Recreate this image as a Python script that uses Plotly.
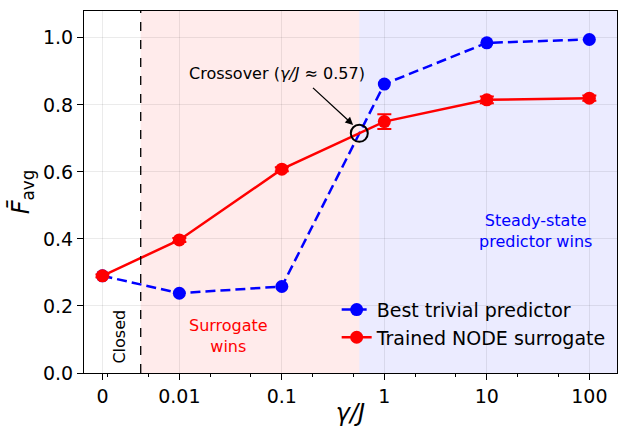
import numpy as np
import plotly.graph_objects as go

# ---- data ----
gamma_labels = ["0", "0.01", "0.1", "1", "10", "100"]
gamma_values = [0.0, 0.01, 0.1, 1.0, 10.0, 100.0]
trivial = [0.29, 0.238, 0.258, 0.862, 0.985, 0.995]
node = [0.29, 0.397, 0.608, 0.750, 0.815, 0.820]
node_err = [0.004, 0.006, 0.006, 0.022, 0.010, 0.008]
crossover_x = 0.57
crossover_y = 0.715
closed_boundary = 0.0042
zero_pos = 10 ** -2.75  # where gamma=0 is drawn on the log axis

xpos = [zero_pos if g == 0 else g for g in gamma_values]

FONT = "DejaVu Sans"
fig = go.Figure()

# shaded regions
fig.add_vrect(x0=closed_boundary, x1=crossover_x, fillcolor="rgba(255,0,0,0.08)",
              line_width=0, layer="below")
fig.add_vrect(x0=crossover_x, x1=10 ** 2.27, fillcolor="rgba(0,0,255,0.08)",
              line_width=0, layer="below")
fig.add_vline(x=closed_boundary, line=dict(color="black", width=1.3, dash="dash"))

fig.add_trace(go.Scatter(
    x=xpos, y=trivial, mode="lines+markers", name="Best trivial predictor",
    line=dict(color="blue", width=2.5, dash="10px,5px"),
    marker=dict(color="blue", size=13)))
fig.add_trace(go.Scatter(
    x=xpos, y=node, mode="lines+markers", name="Trained NODE surrogate",
    line=dict(color="red", width=2.5),
    marker=dict(color="red", size=13),
    error_y=dict(type="data", array=node_err, color="red", thickness=2, width=7)))
fig.add_trace(go.Scatter(
    x=[crossover_x], y=[crossover_y], mode="markers", showlegend=False,
    marker=dict(symbol="circle-open", size=17, color="black", line=dict(width=2))))

# annotations (annotation x is log10 on log axes)
fig.add_annotation(x=np.log10(crossover_x) - 0.06, y=crossover_y + 0.025,
                   ax=-0.74, ay=0.863, axref="x", ayref="y",
                   text=" ", showarrow=True, arrowhead=2, arrowsize=1.2,
                   arrowwidth=1.3, arrowcolor="black")
fig.add_annotation(x=-1.05, y=0.895, text="Crossover (<i>γ/J</i> ≈ 0.57)",
                   showarrow=False, font=dict(family=FONT, size=16, color="black"))
fig.add_annotation(x=-2.584, y=0.11, text="Closed", textangle=-90,
                   showarrow=False, font=dict(family=FONT, size=16, color="black"))
fig.add_annotation(x=-1.523, y=0.11, text="Surrogate<br>wins",
                   showarrow=False, font=dict(family=FONT, size=16, color="red"))
fig.add_annotation(x=1.479, y=0.424, text="Steady-state<br>predictor wins",
                   showarrow=False, font=dict(family=FONT, size=16, color="blue"))

fig.update_layout(
    width=618, height=427,
    margin=dict(l=84, r=1, t=11, b=54),
    plot_bgcolor="white", paper_bgcolor="white",
    font=dict(family=FONT, size=19, color="black"),
    showlegend=True,
    legend=dict(x=0.99, y=0.045, xanchor="right", yanchor="bottom",
                bgcolor="rgba(0,0,0,0)", font=dict(size=19), tracegroupgap=0),
)
fig.update_xaxes(
    type="log", range=[-2.93, 2.27],
    tickmode="array", tickvals=xpos, ticktext=gamma_labels,
    ticks="outside", ticklen=6, tickcolor="black",
    showline=True, linecolor="black", linewidth=1.2, mirror=True,
    showgrid=True, gridcolor="rgba(0,0,0,0.08)",
    minor=dict(ticks="outside", ticklen=3, tickcolor="black", dtick="D2", showgrid=False),
    title=dict(text="<i>γ/J</i>", font=dict(size=24), standoff=0),
    zeroline=False,
)
fig.update_yaxes(
    range=[0, 1.08], tickvals=[0, 0.2, 0.4, 0.6, 0.8, 1.0],
    ticktext=["0.0", "0.2", "0.4", "0.6", "0.8", "1.0"],
    ticks="outside", ticklen=6, tickcolor="black",
    showline=True, linecolor="black", linewidth=1.2, mirror=True,
    showgrid=True, gridcolor="rgba(0,0,0,0.08)",
    title=dict(text="<i>F̄</i><sub>avg</sub>", font=dict(size=24), standoff=6),
    zeroline=False,
)

fig.write_html("out.html")
